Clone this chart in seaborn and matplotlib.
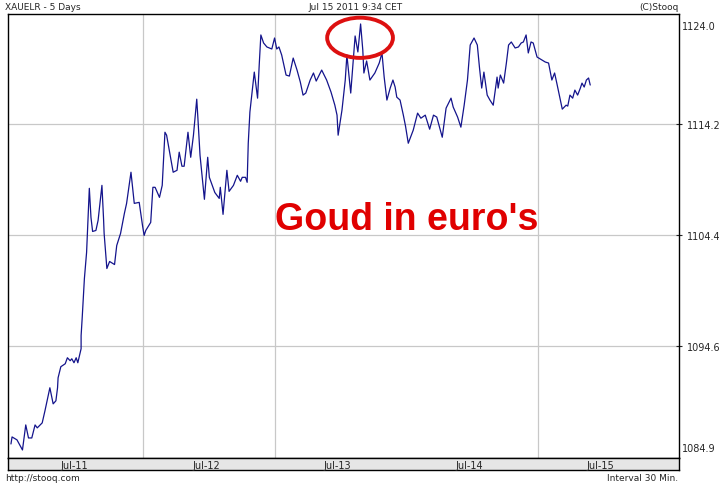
import matplotlib
matplotlib.use("Agg")
import matplotlib.pyplot as plt
from matplotlib.patches import Ellipse
import matplotlib.transforms as mtransforms
import seaborn as sns
import pandas as pd

# XAUELR, 30 min bars, hours since Jul-11 00:00
hours = [-0.1, 0.1, 1.0, 2.0, 2.6, 3.1, 3.7, 4.3, 4.7, 5.6, 6.1, 7.0, 7.6, 8.1, 8.4, 8.5,
         9.0, 9.8, 10.2, 10.7, 11.0, 11.4, 11.8, 12.1, 12.7, 12.7, 12.9, 13.3, 13.7, 13.9,
         14.2, 14.5, 14.8, 15.4, 15.8, 16.5, 16.8, 16.9, 17.4, 17.9, 18.8, 19.2, 19.9, 20.6,
         21.0, 21.8, 22.4, 23.3, 23.9, 24.2, 24.5, 25.4, 25.8, 26.2, 27.0, 27.5, 28.0, 28.3,
         29.5, 30.2, 30.6, 31.1, 31.5, 32.2, 32.7, 33.2, 33.8, 34.0, 34.4, 35.2, 35.8, 36.1,
         37.1, 37.9, 38.1, 38.6, 39.3, 39.7, 40.5, 41.2, 41.8, 42.1, 42.7, 43.0, 43.2, 43.5,
         44.3, 44.9, 45.2, 45.5, 46.0, 46.6, 47.5, 48.0, 48.4, 48.8, 49.3, 50.1, 50.7, 51.4,
         52.1, 52.7, 53.2, 53.7, 54.5, 55.1, 55.6, 56.6, 57.5, 58.3, 59.0, 59.4, 59.6, 60.3,
         60.9, 61.2, 61.9, 62.7, 63.2, 63.7, 64.1, 64.3, 64.8, 65.4, 66.3, 67.1, 67.6, 68.0,
         68.5, 69.1, 69.6, 70.0, 70.3, 70.9, 71.5, 71.9, 72.4, 73.3, 74.1, 74.7, 75.5, 76.3,
         77.0, 77.6, 78.6, 79.3, 80.2, 80.6, 81.4, 82.0, 82.6, 83.2, 83.7, 84.4, 85.0, 85.4,
         85.8, 86.2, 86.8, 87.3, 87.9, 88.6, 88.8, 89.2, 89.8, 90.3, 90.7, 91.2, 91.9, 92.5,
         93.0, 93.4, 93.9, 94.3, 94.8, 95.2, 95.9, 96.8, 97.4, 98.0, 98.6, 99.1, 99.5, 100.5,
         101.2, 101.5, 101.9, 102.4, 102.8, 103.3, 103.8, 104.1, 104.5, 104.9, 105.3, 105.6]
price = [1085.94, 1086.56, 1086.30, 1085.41, 1087.62, 1086.47, 1086.47, 1087.62, 1087.36,
         1087.80, 1088.86, 1090.90, 1089.48, 1089.75, 1090.90, 1091.78, 1092.76, 1093.02,
         1093.55, 1093.29, 1093.46, 1093.11, 1093.55, 1093.11, 1094.35, 1095.50, 1097.09,
         1100.54, 1102.85, 1105.06, 1108.51, 1105.94, 1104.70, 1104.79, 1105.68, 1108.77,
         1105.77, 1104.53, 1101.43, 1102.05, 1101.78, 1103.46, 1104.53, 1106.30, 1107.18,
         1109.93, 1107.18, 1107.27, 1105.24, 1104.35, 1104.79, 1105.50, 1108.60, 1108.60,
         1107.71, 1108.77, 1113.46, 1113.20, 1109.93, 1110.10, 1111.70, 1110.46, 1110.46,
         1113.46, 1111.25, 1113.20, 1116.38, 1114.80, 1111.43, 1107.54, 1111.25, 1109.48,
         1108.14, 1107.62, 1108.60, 1106.21, 1110.10, 1108.24, 1108.77, 1109.66, 1109.13,
         1109.48, 1109.48, 1109.04, 1112.49, 1115.24, 1118.77, 1116.47, 1119.40, 1122.05,
         1121.34, 1120.99, 1120.81, 1121.78, 1120.81, 1120.99, 1120.28, 1118.51, 1118.42,
         1120.01, 1118.95, 1117.89, 1116.74, 1116.92, 1118.07, 1118.69, 1117.98, 1118.95,
         1118.07, 1117.01, 1115.85, 1114.97, 1113.20, 1115.41, 1118.07, 1120.28, 1116.92,
         1121.96, 1120.55, 1123.02, 1120.72, 1118.69, 1119.75, 1118.07, 1118.69, 1119.57,
         1120.46, 1118.33, 1116.30, 1117.36, 1118.07, 1117.45, 1116.56, 1116.30, 1114.97,
         1113.99, 1112.49, 1113.64, 1115.15, 1114.70, 1114.97, 1113.73, 1114.97, 1114.80,
         1113.02, 1115.59, 1116.47, 1115.68, 1114.80, 1113.91, 1115.85, 1118.07, 1121.16,
         1121.78, 1121.16, 1119.13, 1117.36, 1118.77, 1116.74, 1116.30, 1115.85, 1118.33,
         1117.36, 1118.51, 1117.80, 1119.57, 1121.16, 1121.43, 1120.90, 1120.99, 1121.34,
         1121.43, 1122.05, 1120.46, 1121.43, 1121.34, 1120.10, 1119.84, 1119.66, 1119.57,
         1118.07, 1118.69, 1117.80, 1115.50, 1115.85, 1115.77, 1116.74, 1116.47, 1117.18,
         1116.74, 1117.36, 1117.80, 1117.45, 1118.07, 1118.25, 1117.63]

y_ticks = [1084.9, 1094.6, 1104.4, 1114.2, 1124.0]
day_labels = ["Jul-11", "Jul-12", "Jul-13", "Jul-14", "Jul-15"]
day_mid = [11.5, 35.5, 59.5, 83.5, 107.5]
day_lines = [24, 48, 96]

df = pd.DataFrame({"hour": hours, "price": price})

sns.set_style("white")
plt.rcParams["font.family"] = ["DejaVu Sans"]

fig = plt.figure(figsize=(7.19, 4.85), dpi=100)
W, H = 719, 485
ax = fig.add_axes([8 / W, 26 / H, 671 / W, 444 / H])
strip = fig.add_axes([8 / W, 14 / H, 671 / W, 12 / H], sharex=ax)

sns.lineplot(data=df, x="hour", y="price", ax=ax, color="#14148c",
             lw=0.9, estimator=None)

ax.set_xlim(-0.64, 121.8)
ax.set_ylim(1084.7, 1123.9)
ax.set_xlabel("")
ax.set_ylabel("")

# grid
for h in day_lines:
    ax.axvline(h, color="#c8c8c8", lw=0.9, zorder=0)
for v in y_ticks[1:-1]:
    ax.axhline(v, color="#c8c8c8", lw=0.9, zorder=0)

ax.yaxis.tick_right()
ax.set_yticks(y_ticks[1:-1])
ax.set_yticklabels([f"{v:.1f}" for v in y_ticks[1:-1]])
ax.tick_params(axis="y", direction="inout", length=5, width=0.8, pad=3,
               labelsize=7, right=True, left=False)
# end labels of the scale sit just inside the frame
ax.text(1.005, 0.985, f"{y_ticks[-1]:.1f}", transform=ax.transAxes,
        fontsize=7, ha="left", va="top")
ax.text(1.005, 0.012, f"{y_ticks[0]:.1f}", transform=ax.transAxes,
        fontsize=7, ha="left", va="bottom")

ax.set_xticks(day_lines)
ax.tick_params(axis="x", direction="in", length=4, width=0.8, labelbottom=False)
for s in ax.spines.values():
    s.set_color("black")
    s.set_linewidth(1)

# label strip under the plot
strip.set_facecolor("#e6e6e6")
strip.set_yticks([])
strip.tick_params(axis="x", length=0, labelbottom=False)
for s in strip.spines.values():
    s.set_color("black")
    s.set_linewidth(1)
trans = mtransforms.blended_transform_factory(strip.transData, strip.transAxes)
for m, lab in zip(day_mid, day_labels):
    strip.text(m, 0.45, lab, transform=trans, ha="center", va="center", fontsize=7)

# annotations
ax.add_patch(Ellipse((63.6, 1121.8), 12.0, 3.55, fill=False,
                     edgecolor="#dd1010", lw=2.8, zorder=5))
ax.text(72.2, 1105.8, "Goud in euro's", color="#e00000", fontsize=27,
        fontweight="bold", family=["Liberation Sans", "DejaVu Sans"],
        ha="center", va="center", zorder=6)

# header / footer
fig.text(5 / W, 1 - 8 / H, "XAUELR - 5 Days", fontsize=6.5, va="center", ha="left")
fig.text(356 / W, 1 - 8 / H, "Jul 15 2011 9:34 CET", fontsize=6.5, va="center", ha="center")
fig.text(679 / W, 1 - 8 / H, "(C)Stooq", fontsize=6.5, va="center", ha="right")
fig.text(5 / W, 1 - 479 / H, "http://stooq.com", fontsize=6.5, va="center", ha="left")
fig.text(678 / W, 1 - 479 / H, "Interval 30 Min.", fontsize=6.5, va="center", ha="right")

fig.savefig("out.png", dpi=100)
